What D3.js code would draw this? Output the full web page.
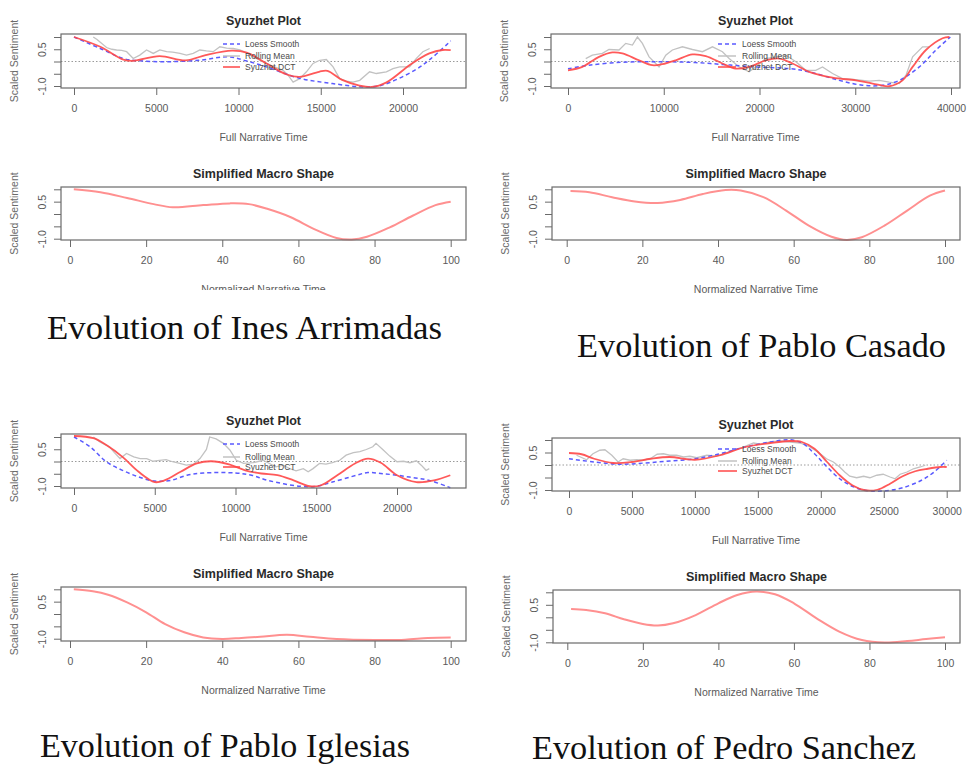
<!DOCTYPE html>
<html><head><meta charset="utf-8">
<script src="https://cdn.jsdelivr.net/npm/d3@7"></script>
<style>
html,body{margin:0;padding:0;background:#fff;}
svg{display:block;}
</style></head>
<body>
<svg id="chart" width="969" height="767"></svg>
<script>
// ---------------- DATA ----------------
const legendLabels = ["Loess Smooth", "Rolling Mean", "Syuzhet DCT"];
const syuzhetTitle = "Syuzhet Plot";
const macroTitle = "Simplified Macro Shape";
const fullLabel = "Full Narrative Time";
const normLabel = "Normalized Narrative Time";
const yLabel = "Scaled Sentiment";
const yTicks = [-1, -0.5, 0, 0.5, 1];
const yLabelledTicks = [-1, 0.5];
const macroTicks = [0, 20, 40, 60, 80, 100];
const captions = ["Evolution of Ines Arrimadas", "Evolution of Pablo Casado",
                  "Evolution of Pablo Iglesias", "Evolution of Pedro Sanchez"];

// Ines Arrimadas
const inesTicks = [0, 5000, 10000, 15000, 20000];
const inesLoess = [[0,1.0],[1600,0.53],[3000,0.12],[4000,0.03],[5600,-0.01],[7600,0.05],[9400,0.19],[10500,0.02],[11700,-0.22],[13700,-0.68],[15700,-0.9],[17700,-1.04],[18700,-0.97],[20700,-0.36],[21700,0.12],[22900,0.84]];
const inesRolling = [[1170,1.0],[1400,0.9],[1580,0.8],[1980,0.57],[2300,0.5],[2590,0.47],[2900,0.45],[3200,0.4],[3600,0.12],[4000,0.26],[4410,0.47],[4820,0.33],[5220,0.47],[5630,0.40],[6000,0.38],[6440,0.33],[6840,0.26],[7250,0.33],[7650,0.47],[8050,0.43],[8460,0.40],[8870,0.6],[9280,0.55],[9680,0.53],[10080,0.47],[10500,0.35],[10890,0.19],[11300,0.05],[11700,-0.08],[12200,-0.22],[12710,-0.36],[13000,-0.55],[13320,-0.84],[13720,-0.70],[14130,-0.42],[14530,-0.08],[14940,0.05],[15340,0.08],[15750,-0.22],[16150,-0.70],[16550,-0.80],[16960,-0.84],[17370,-0.77],[17970,-0.42],[18380,-0.49],[18990,-0.42],[19390,-0.29],[19800,-0.22],[20400,-0.22],[20800,0.12],[21210,0.40],[21620,0.53]];
const inesDCT = [[0,1.0],[1600,0.6],[3000,0.08],[3600,0.03],[5200,0.22],[6800,0.05],[8000,0.26],[9600,0.44],[10500,0.36],[11700,-0.08],[12900,-0.52],[13700,-0.63],[14900,-0.42],[15400,-0.38],[16300,-0.75],[17300,-0.97],[18100,-1.04],[19000,-0.85],[20500,-0.1],[21600,0.33],[22400,0.47],[22900,0.46]];
const inesMacro = [[1,1.0],[8,0.88],[15,0.65],[22,0.4],[27,0.27],[35,0.36],[42,0.43],[47,0.4],[52,0.2],[58,-0.13],[64,-0.6],[70,-0.97],[74,-1.03],[78,-0.92],[84,-0.54],[90,-0.07],[96,0.36],[100,0.5]];

// Pablo Casado
const casadoTicks = [0, 10000, 20000, 30000, 40000];
const casadoLoess = [[0,-0.3],[2200,-0.15],[5680,-0.03],[9160,-0.01],[12650,-0.03],[16130,-0.12],[19610,-0.22],[23100,-0.29],[25190,-0.42],[28330,-0.77],[30770,-0.97],[32860,-0.97],[34600,-0.77],[36690,-0.22],[38430,0.47],[39930,1.0]];
const casadoRolling = [[1850,0.12],[2540,0.26],[3590,0.33],[4280,0.49],[5330,0.47],[6030,0.74],[6730,0.67],[7250,1.0],[7770,0.74],[8470,0.19],[9160,-0.08],[9510,-0.22],[10210,0.26],[10900,0.47],[11950,0.6],[13000,0.49],[14040,0.40],[15090,0.6],[16130,0.40],[16830,0.12],[17870,-0.22],[18920,-0.42],[19610,-0.22],[20660,0.12],[21710,0.19],[22750,0.26],[23800,-0.01],[24840,-0.36],[25880,-0.36],[26580,-0.22],[27630,-0.49],[28670,-0.70],[30070,-0.74],[31460,-0.80],[32510,-0.77],[33550,-0.84],[34600,-0.90],[35300,-0.56],[35990,0.19],[37030,0.6],[37730,0.6]];
const casadoDCT = [[0,-0.36],[1500,-0.22],[3240,0.19],[4630,0.37],[5680,0.33],[7420,0.05],[8800,-0.15],[9860,-0.11],[11250,0.05],[13000,0.29],[14390,0.22],[16130,-0.08],[17520,-0.29],[18920,-0.22],[20660,0.05],[22060,0.12],[23450,-0.08],[25190,-0.42],[27630,-0.66],[30070,-0.77],[31810,-0.9],[33550,-1.01],[34940,-0.77],[35990,-0.22],[37380,0.47],[39120,0.95],[39820,1.0]];
const casadoMacro = [[1,0.93],[6,0.88],[12,0.68],[18,0.51],[24,0.45],[30,0.57],[36,0.81],[42,0.97],[46,0.95],[52,0.68],[58,0.14],[64,-0.47],[70,-0.92],[74,-1.05],[78,-0.94],[84,-0.47],[90,0.14],[96,0.74],[100,0.95]];

// Pablo Iglesias
const iglesiasTicks = [0, 5000, 10000, 15000, 20000];
const iglesiasLoess = [[0,1.0],[1000,0.6],[2000,-0.01],[3000,-0.36],[4000,-0.63],[5000,-0.8],[6000,-0.77],[7000,-0.56],[8000,-0.47],[10000,-0.47],[11000,-0.56],[12000,-0.77],[14000,-1.01],[15000,-1.01],[16000,-0.84],[17500,-0.56],[18200,-0.45],[19000,-0.49],[20000,-0.56],[21000,-0.66],[22000,-0.77],[23300,-1.07]];
const iglesiasRolling = [[1200,1.0],[1600,0.8],[2200,0.6],[2500,0.36],[2850,0.12],[3250,0.33],[3700,0.19],[4100,0.12],[4500,0.12],[4900,0.01],[5300,0.05],[5700,0.08],[6100,-0.01],[6550,-0.08],[6950,-0.15],[7400,-0.11],[7800,0.12],[8200,0.49],[8400,1.0],[8800,0.92],[9250,0.74],[9650,0.47],[10050,0.05],[10500,-0.08],[11100,-0.05],[11700,0.05],[12100,-0.08],[12500,-0.22],[12950,-0.15],[13350,-0.29],[13750,-0.38],[14200,-0.29],[14500,-0.42],[14800,-0.29],[15200,-0.08],[15600,-0.11],[16000,-0.05],[16450,0.05],[16850,0.26],[17300,0.36],[17700,0.40],[18100,0.49],[18500,0.6],[18700,0.74],[19150,0.47],[19550,0.22],[20000,-0.01],[20400,0.01],[20800,-0.05],[21200,0.03],[21500,-0.15],[21800,-0.36],[22000,-0.29]];
const iglesiasDCT = [[0,1.04],[1200,0.95],[2000,0.67],[3000,0.19],[4000,-0.42],[5000,-0.84],[5600,-0.77],[6600,-0.42],[7600,-0.08],[8500,0.01],[9600,-0.12],[10600,-0.36],[11600,-0.49],[12600,-0.56],[13600,-0.77],[14600,-1.01],[15300,-0.97],[16300,-0.56],[17400,-0.08],[18200,0.12],[19000,-0.05],[20000,-0.56],[21200,-0.84],[22300,-0.77],[23300,-0.56]];
const iglesiasMacro = [[1,1.0],[6,0.92],[10,0.78],[15,0.47],[20,0.07],[25,-0.41],[30,-0.74],[35,-0.95],[40,-1.01],[45,-0.97],[50,-0.92],[57,-0.84],[63,-0.92],[70,-1.01],[80,-1.05],[88,-1.04],[94,-0.97],[100,-0.95]];

// Pedro Sanchez
const sanchezTicks = [0, 5000, 10000, 15000, 20000, 25000, 30000];
const sanchezLoess = [[0,0.25],[2000,0.12],[4000,0.03],[6000,0.08],[8000,0.16],[10000,0.25],[12000,0.45],[14000,0.72],[16000,0.92],[17500,1.01],[18500,0.88],[19500,0.45],[20500,-0.08],[21500,-0.55],[22500,-0.85],[23500,-1.01],[25000,-1.04],[26500,-0.91],[28000,-0.61],[29000,-0.28],[30000,0.19]];
const sanchezRolling = [[600,0.39],[1400,0.21],[1900,0.45],[2450,0.59],[2850,0.61],[3400,0.39],[3900,0.12],[4300,0.25],[4850,0.19],[5400,0.21],[5900,0.19],[6450,0.25],[7000,0.43],[7500,0.45],[8000,0.39],[8550,0.39],[9100,0.32],[9600,0.35],[10150,0.29],[10950,0.39],[11700,0.35],[12250,0.45],[13050,0.59],[13850,0.72],[14650,0.88],[15200,0.83],[15950,0.92],[16750,0.96],[17550,0.92],[18350,0.88],[19150,0.72],[19950,0.45],[20450,0.25],[21000,0.12],[21500,-0.08],[21900,-0.28],[22300,-0.45],[22850,-0.51],[23400,-0.45],[23900,-0.51],[24450,-0.41],[24950,-0.37],[25500,-0.48],[25900,-0.55],[26300,-0.37],[26850,-0.28],[27350,-0.15],[27900,-0.08],[28300,-0.01]];
const sanchezDCT = [[0,0.48],[1000,0.43],[2000,0.25],[3500,0.08],[5000,0.12],[6500,0.25],[8000,0.32],[10000,0.21],[12000,0.39],[14000,0.72],[16000,0.88],[17500,0.96],[18500,0.92],[19500,0.65],[20500,0.12],[21500,-0.41],[22500,-0.81],[23500,-1.01],[24500,-0.99],[25500,-0.75],[26500,-0.45],[27500,-0.25],[28500,-0.15],[29500,-0.08],[30000,-0.08]];
const sanchezMacro = [[1,0.33],[5,0.29],[10,0.16],[15,-0.08],[20,-0.27],[24,-0.33],[28,-0.24],[34,0.09],[40,0.56],[45,0.89],[50,1.03],[55,0.92],[60,0.56],[66,-0.04],[72,-0.57],[78,-0.91],[84,-1.01],[90,-0.95],[95,-0.87],[100,-0.8]];

// ---------------- LAYOUT ----------------
const svg = d3.select("#chart");
const SANS = "'Liberation Sans', Arial, sans-serif";
const SERIF = "'Liberation Serif', 'Times New Roman', serif";
const COL_BLUE = "#5a5aff", COL_RED = "#ff4747", COL_GRAY = "#c2c2c2", COL_MACRO = "#ff9090";

const syuzhetPanels = [
  {box:{l:61,r:466,t:34,b:88}, x0:[0,74], x1:[20000,403], y:[86,37], ticks:inesTicks,
   loess:inesLoess, rolling:inesRolling, dct:inesDCT, leg:{x1:223,x2:240,tx:245,ys:[44,56,67]}},
  {box:{l:551,r:960,t:34,b:88}, x0:[0,568], x1:[40000,951], y:[86,37], ticks:casadoTicks,
   loess:casadoLoess, rolling:casadoRolling, dct:casadoDCT, leg:{x1:718,x2:736,tx:742,ys:[44,56,67]}},
  {box:{l:61,r:466,t:434,b:488}, x0:[0,74], x1:[20000,397], y:[486,437], ticks:iglesiasTicks,
   loess:iglesiasLoess, rolling:iglesiasRolling, dct:iglesiasDCT, leg:{x1:223,x2:240,tx:245,ys:[444,457,467]}},
  {box:{l:552,r:960,t:438,b:491}, x0:[0,569], x1:[30000,946.7], y:[490,440], ticks:sanchezTicks,
   loess:sanchezLoess, rolling:sanchezRolling, dct:sanchezDCT, leg:{x1:718,x2:737,tx:742,ys:[449,461,471]}}
];
const macroPanels = [
  {box:{l:61,r:466,t:187,b:240}, x0:[0,70], x1:[100,450.7], y:[238.7,189.3], data:inesMacro, clipY:290},
  {box:{l:552,r:960,t:187,b:240}, x0:[0,566.7], x1:[100,945], y:[238.7,189.3], data:casadoMacro},
  {box:{l:61,r:466,t:587,b:641}, x0:[0,70], x1:[100,450.7], y:[638.7,589.3], data:iglesiasMacro},
  {box:{l:553,r:960,t:590,b:643}, x0:[0,567.3], x1:[100,945], y:[642.3,592.3], data:sanchezMacro}
];
const captionPos = [
  {x:47, y:339, w:395}, {x:577, y:357, w:369},
  {x:40, y:757, w:370}, {x:532, y:759, w:384}
];

let clipId = 0;
function frame(p, xTicks, title, xLabel) {
  const g = svg.append("g");
  const x = d3.scaleLinear().domain([p.x0[0], p.x1[0]]).range([p.x0[1], p.x1[1]]);
  const y = d3.scaleLinear().domain([-1, 1]).range(p.y);
  const b = p.box;
  const xa = g.append("g").attr("transform", `translate(0,${b.b})`)
    .call(d3.axisBottom(x).tickValues(xTicks).tickSize(7).tickPadding(10).tickFormat(d3.format("d")));
  xa.select(".domain").remove();
  xa.selectAll("line").attr("stroke", "#6a6a6a");
  xa.selectAll("text").attr("font-family", SANS).attr("font-size", 10.5).attr("fill", "#5a5a5a");
  const ya = g.append("g").attr("transform", `translate(${b.l},0)`)
    .call(d3.axisLeft(y).tickValues(yTicks).tickSize(7)
      .tickFormat(d => yLabelledTicks.includes(d) ? d.toFixed(1) : ""));
  ya.select(".domain").remove();
  ya.selectAll("line").attr("stroke", "#6a6a6a");
  ya.selectAll("text").attr("x", null).attr("dy", null)
    .attr("transform", "translate(-19,0) rotate(-90)")
    .attr("text-anchor", "middle").attr("dominant-baseline", "central")
    .attr("font-family", SANS).attr("font-size", 10.5).attr("fill", "#5a5a5a");
  g.append("text").attr("x", (b.l + b.r) / 2).attr("y", b.t - 13)
    .attr("text-anchor", "middle").attr("dominant-baseline", "central")
    .attr("font-family", SANS).attr("font-weight", "bold").attr("font-size", 12.5)
    .attr("fill", "#2a2a2a").text(title);
  let lblParent = g;
  if (p.clipY) {
    const id = "clip" + (clipId++);
    svg.append("clipPath").attr("id", id).append("rect")
      .attr("x", 0).attr("y", 0).attr("width", 969).attr("height", p.clipY);
    lblParent = g.append("g").attr("clip-path", `url(#${id})`);
  }
  lblParent.append("text").attr("x", (b.l + b.r) / 2).attr("y", b.b + 49)
    .attr("text-anchor", "middle").attr("dominant-baseline", "central")
    .attr("font-family", SANS).attr("font-size", 10.5).attr("fill", "#5a5a5a").text(xLabel);
  g.append("text").attr("transform", `translate(${b.l - 47},${(b.t + b.b) / 2}) rotate(-90)`)
    .attr("text-anchor", "middle").attr("dominant-baseline", "central")
    .attr("font-family", SANS).attr("font-size", 10.5).attr("fill", "#6a6a6a").text(yLabel);
  return {g, x, y, b};
}
function box(g, b) {
  g.append("rect").attr("x", b.l).attr("y", b.t).attr("width", b.r - b.l).attr("height", b.b - b.t)
    .attr("fill", "none").attr("stroke", "#6a6a6a").attr("stroke-width", 1.2);
}

syuzhetPanels.forEach(p => {
  const {g, x, y, b} = frame(p, p.ticks, syuzhetTitle, fullLabel);
  g.append("line").attr("x1", b.l).attr("x2", b.r).attr("y1", y(0)).attr("y2", y(0))
    .attr("stroke", "#9a9a9a").attr("stroke-dasharray", "1.5,2");
  const lineLin = d3.line().x(d => x(d[0])).y(d => y(d[1])).curve(d3.curveLinear);
  const lineSmooth = d3.line().x(d => x(d[0])).y(d => y(d[1])).curve(d3.curveCatmullRom.alpha(0.5));
  g.append("path").datum(p.rolling).attr("d", lineLin).attr("fill", "none")
    .attr("stroke", COL_GRAY).attr("stroke-width", 1.3);
  g.append("path").datum(p.loess).attr("d", lineSmooth).attr("fill", "none")
    .attr("stroke", COL_BLUE).attr("stroke-width", 1.5).attr("stroke-dasharray", "4,3");
  g.append("path").datum(p.dct).attr("d", lineSmooth).attr("fill", "none")
    .attr("stroke", COL_RED).attr("stroke-width", 1.8).attr("stroke-opacity", 0.9);
  const cols = [COL_BLUE, COL_GRAY, COL_RED];
  const dashes = ["4,3", null, null];
  legendLabels.forEach((lab, i) => {
    const yy = p.leg.ys[i];
    g.append("line").attr("x1", p.leg.x1).attr("x2", p.leg.x2).attr("y1", yy).attr("y2", yy)
      .attr("stroke", cols[i]).attr("stroke-width", 1.5).attr("stroke-dasharray", dashes[i]);
    g.append("text").attr("x", p.leg.tx).attr("y", yy).attr("dominant-baseline", "central")
      .attr("font-family", SANS).attr("font-size", 8.5).attr("fill", "#4a4a4a").text(lab);
  });
  box(g, b);
});

macroPanels.forEach(p => {
  const {g, x, y, b} = frame(p, macroTicks, macroTitle, normLabel);
  const lineSmooth = d3.line().x(d => x(d[0])).y(d => y(d[1])).curve(d3.curveCatmullRom.alpha(0.5));
  g.append("path").datum(p.data).attr("d", lineSmooth).attr("fill", "none")
    .attr("stroke", COL_MACRO).attr("stroke-width", 2);
  box(g, b);
});

captions.forEach((c, i) => {
  const cp = captionPos[i];
  svg.append("text").attr("x", cp.x).attr("y", cp.y)
    .attr("font-family", SERIF).attr("font-size", 34).attr("fill", "#111")
    .attr("textLength", cp.w).attr("lengthAdjust", "spacingAndGlyphs").text(c);
});
</script>
</body></html>
